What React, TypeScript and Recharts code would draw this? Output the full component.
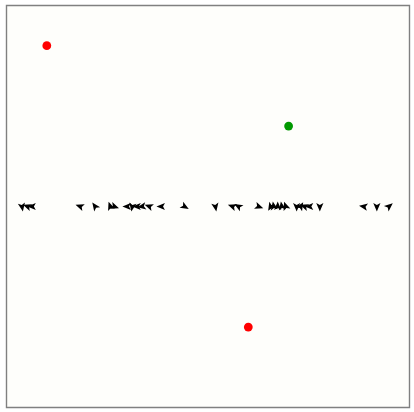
import React from "react";
import { ScatterChart, Scatter, XAxis, YAxis, ReferenceArea } from "recharts";

const redX = [-0.8, 0.2];
const redY = [0.8, -0.6];
const greenX = [0.4];
const greenY = [0.4];

const arrowX = [-0.923, -0.895, -0.872, -0.634, -0.56, -0.485, -0.465, -0.4, -0.376, -0.351, -0.326, -0.291, -0.231, -0.117, 0.037, 0.122, 0.152, 0.251, 0.311, 0.326, 0.346, 0.366, 0.386, 0.44, 0.46, 0.48, 0.505, 0.555, 0.774, 0.838, 0.898];
const arrowAngle = [80, 200, 180, 200, 235, 250, 20, 180, 100, 180, 170, 200, 180, 30, 80, 200, 210, 20, 120, 260, 270, 260, 250, 90, 300, 200, 180, 90, 190, 90, 320];

const redData = redX.map((x, i) => ({ x, y: redY[i] }));
const greenData = greenX.map((x, i) => ({ x, y: greenY[i] }));
const arrowData = arrowX.map((x, i) => ({ x, y: 0, a: arrowAngle[i] }));

const Dot = (color: string) => (props: any) => (
  <circle cx={props.cx} cy={props.cy} r={4.4} fill={color} />
);

const Arrow = (props: any) => {
  const { cx, cy, payload } = props;
  return (
    <polygon
      points="5,0 -3.5,3.6 -1.6,0 -3.5,-3.6"
      fill="#000"
      transform={`translate(${cx},${cy}) rotate(${payload.a})`}
    />
  );
};

export default function App() {
  return (
    <div style={{ position: "absolute", left: 0, top: 0, width: 414, height: 412, background: "#fff" }}>
      <ScatterChart width={414} height={412} margin={{ top: 5.5, left: 6.5, right: 4.5, bottom: 4.5 }}>
        <XAxis type="number" dataKey="x" domain={[-1, 1]} hide />
        <YAxis type="number" dataKey="y" domain={[-1, 1]} hide />
        <ReferenceArea x1={-1} x2={1} y1={-1} y2={1} fill="#fefefb" fillOpacity={1} stroke="#808080" strokeWidth={1.4} />
        <Scatter data={arrowData} shape={Arrow} isAnimationActive={false} />
        <Scatter data={redData} shape={Dot("#ff0000")} isAnimationActive={false} />
        <Scatter data={greenData} shape={Dot("#009900")} isAnimationActive={false} />
      </ScatterChart>
    </div>
  );
}
